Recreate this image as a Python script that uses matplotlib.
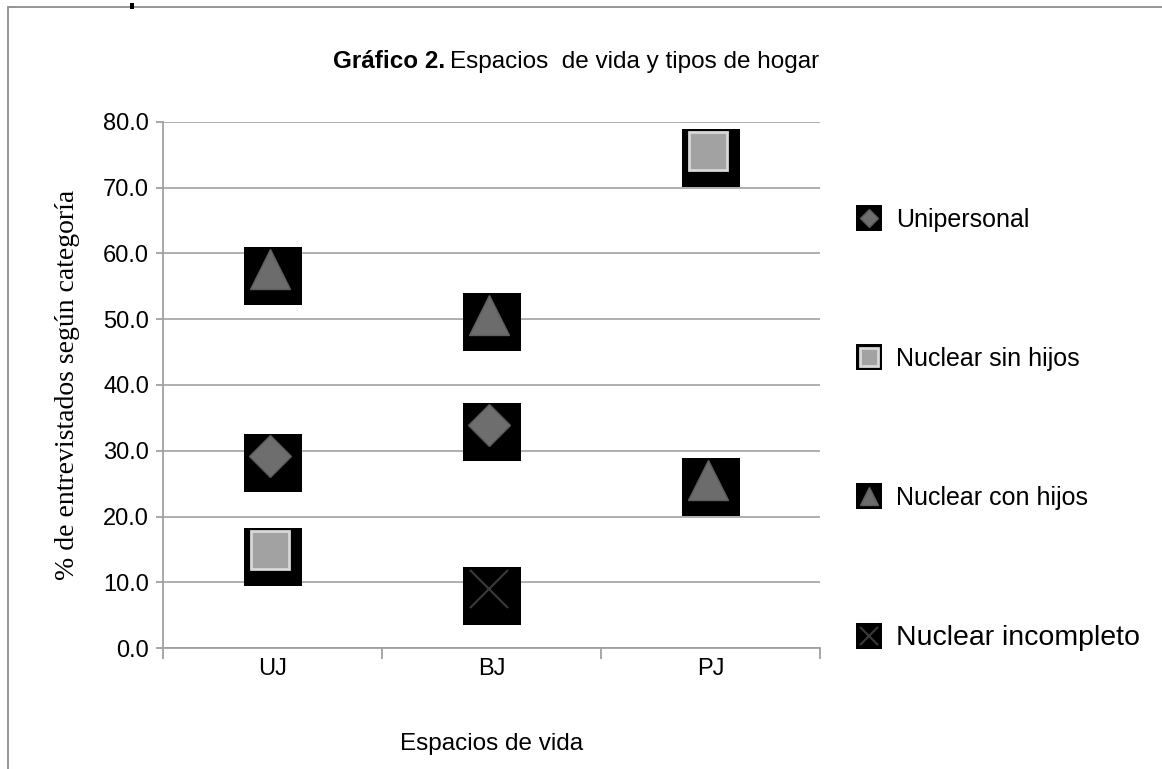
import numpy as np
import matplotlib.pyplot as plt
import matplotlib.transforms as mtransforms
from matplotlib.legend_handler import HandlerTuple
from matplotlib.lines import Line2D
from matplotlib.patches import Rectangle

plt.rcParams['font.family'] = ['Liberation Sans', 'DejaVu Sans']

# data
categories = ['UJ', 'BJ', 'PJ']
series_names = ['Unipersonal', 'Nuclear sin hijos', 'Nuclear con hijos', 'Nuclear incompleto']
unipersonal = [28.6, 33.3, np.nan]
sin_hijos = [14.3, 8.3, 75.0]
con_hijos = [57.1, 50.0, 25.0]
incompleto = [np.nan, 8.3, np.nan]
yticks = [0, 10, 20, 30, 40, 50, 60, 70, 80]

fig = plt.figure(figsize=(11.62, 7.69), dpi=100)
ax = fig.add_axes([0.1403, 0.1573, 0.5654, 0.6841])

x = np.arange(len(categories))
# marker image: black box with a shaded shape sitting slightly high in it
box_tr = mtransforms.offset_copy(ax.transData, fig=fig, x=0, y=-3, units='dots')
shape_tr = mtransforms.offset_copy(ax.transData, fig=fig, x=-3, y=4, units='dots')

styles = [
    dict(marker='D', ms=21, mfc='#6e6e6e', mec='#5a5a5a', mew=1),
    dict(marker='s', ms=28, mfc='#a2a2a2', mec='#d8d8d8', mew=2),
    dict(marker='^', ms=29, mfc='#6c6c6c', mec='#5e5e5e', mew=1),
    dict(marker='x', ms=28, mfc='none', mec='#3a3a3a', mew=1.5),
]
handles = []
for vals, st in zip([unipersonal, sin_hijos, con_hijos, incompleto], styles):
    ax.plot(x, vals, ls='none', marker='s', ms=42, mfc='black', mec='black',
            mew=0, transform=box_tr, clip_on=False)
    ax.plot(x, vals, ls='none', transform=shape_tr, clip_on=False, **st)
    hb = Line2D([], [], ls='none', marker='s', ms=42, mfc='black', mec='black', mew=0)
    hs = Line2D([], [], ls='none', **st)
    handles.append((hb, hs))

ax.set_xlim(-0.5, 2.5)
ax.set_ylim(0, 80)
ax.set_yticks(yticks)
ax.set_yticklabels(['%.1f' % v for v in yticks], fontsize=17)
ax.set_xticks(x)
ax.set_xticklabels(categories, fontsize=17)
ax.set_xticks([-0.5, 0.5, 1.5, 2.5], minor=True)
ax.tick_params(axis='x', which='major', length=0, pad=7)
ax.tick_params(axis='x', which='minor', length=8, color='#a0a0a0', width=1.3)
ax.tick_params(axis='y', length=5, color='#a0a0a0', width=1.3, pad=5)
ax.grid(axis='y', color='#a8a8a8', lw=1.3)
ax.set_axisbelow(True)
for sp in ['top', 'right']:
    ax.spines[sp].set_visible(False)
for sp in ['left', 'bottom']:
    ax.spines[sp].set_color('#a0a0a0')
    ax.spines[sp].set_linewidth(1.3)

ax.set_xlabel('Espacios de vida', fontsize=17.5, labelpad=38)
ax.set_ylabel('% de entrevistados según categoría', fontsize=20,
              family=['Liberation Serif', 'DejaVu Serif'], labelpad=17)

fig.text(0.383, 0.9195, 'Gráfico 2.', fontsize=17.5, fontweight='bold', ha='right', va='center')
fig.text(0.387, 0.9195, 'Espacios  de vida y tipos de hogar', fontsize=17.5, ha='left', va='center')

leg = ax.legend(handles, series_names, handler_map={tuple: HandlerTuple(ndivide=1, pad=0)},
                loc='upper left', bbox_to_anchor=(0.716, 0.7585), bbox_transform=fig.transFigure,
                frameon=False, fontsize=18, markerscale=0.46, labelspacing=4.6,
                handlelength=1.2, handletextpad=0.45)
leg.get_texts()[3].set_fontsize(20.5)

# outer frame of the chart area
fig.patches.append(Rectangle((0.007, -0.05), 1.2, 0.041 + 1.0, transform=fig.transFigure,
                             fill=False, ec='#8c8c8c', lw=1.3))
fig.patches.append(Rectangle((0.1115, 0.988), 0.004, 0.008, transform=fig.transFigure,
                             fc='black', ec='none'))

fig.savefig('out.png', dpi=100)
